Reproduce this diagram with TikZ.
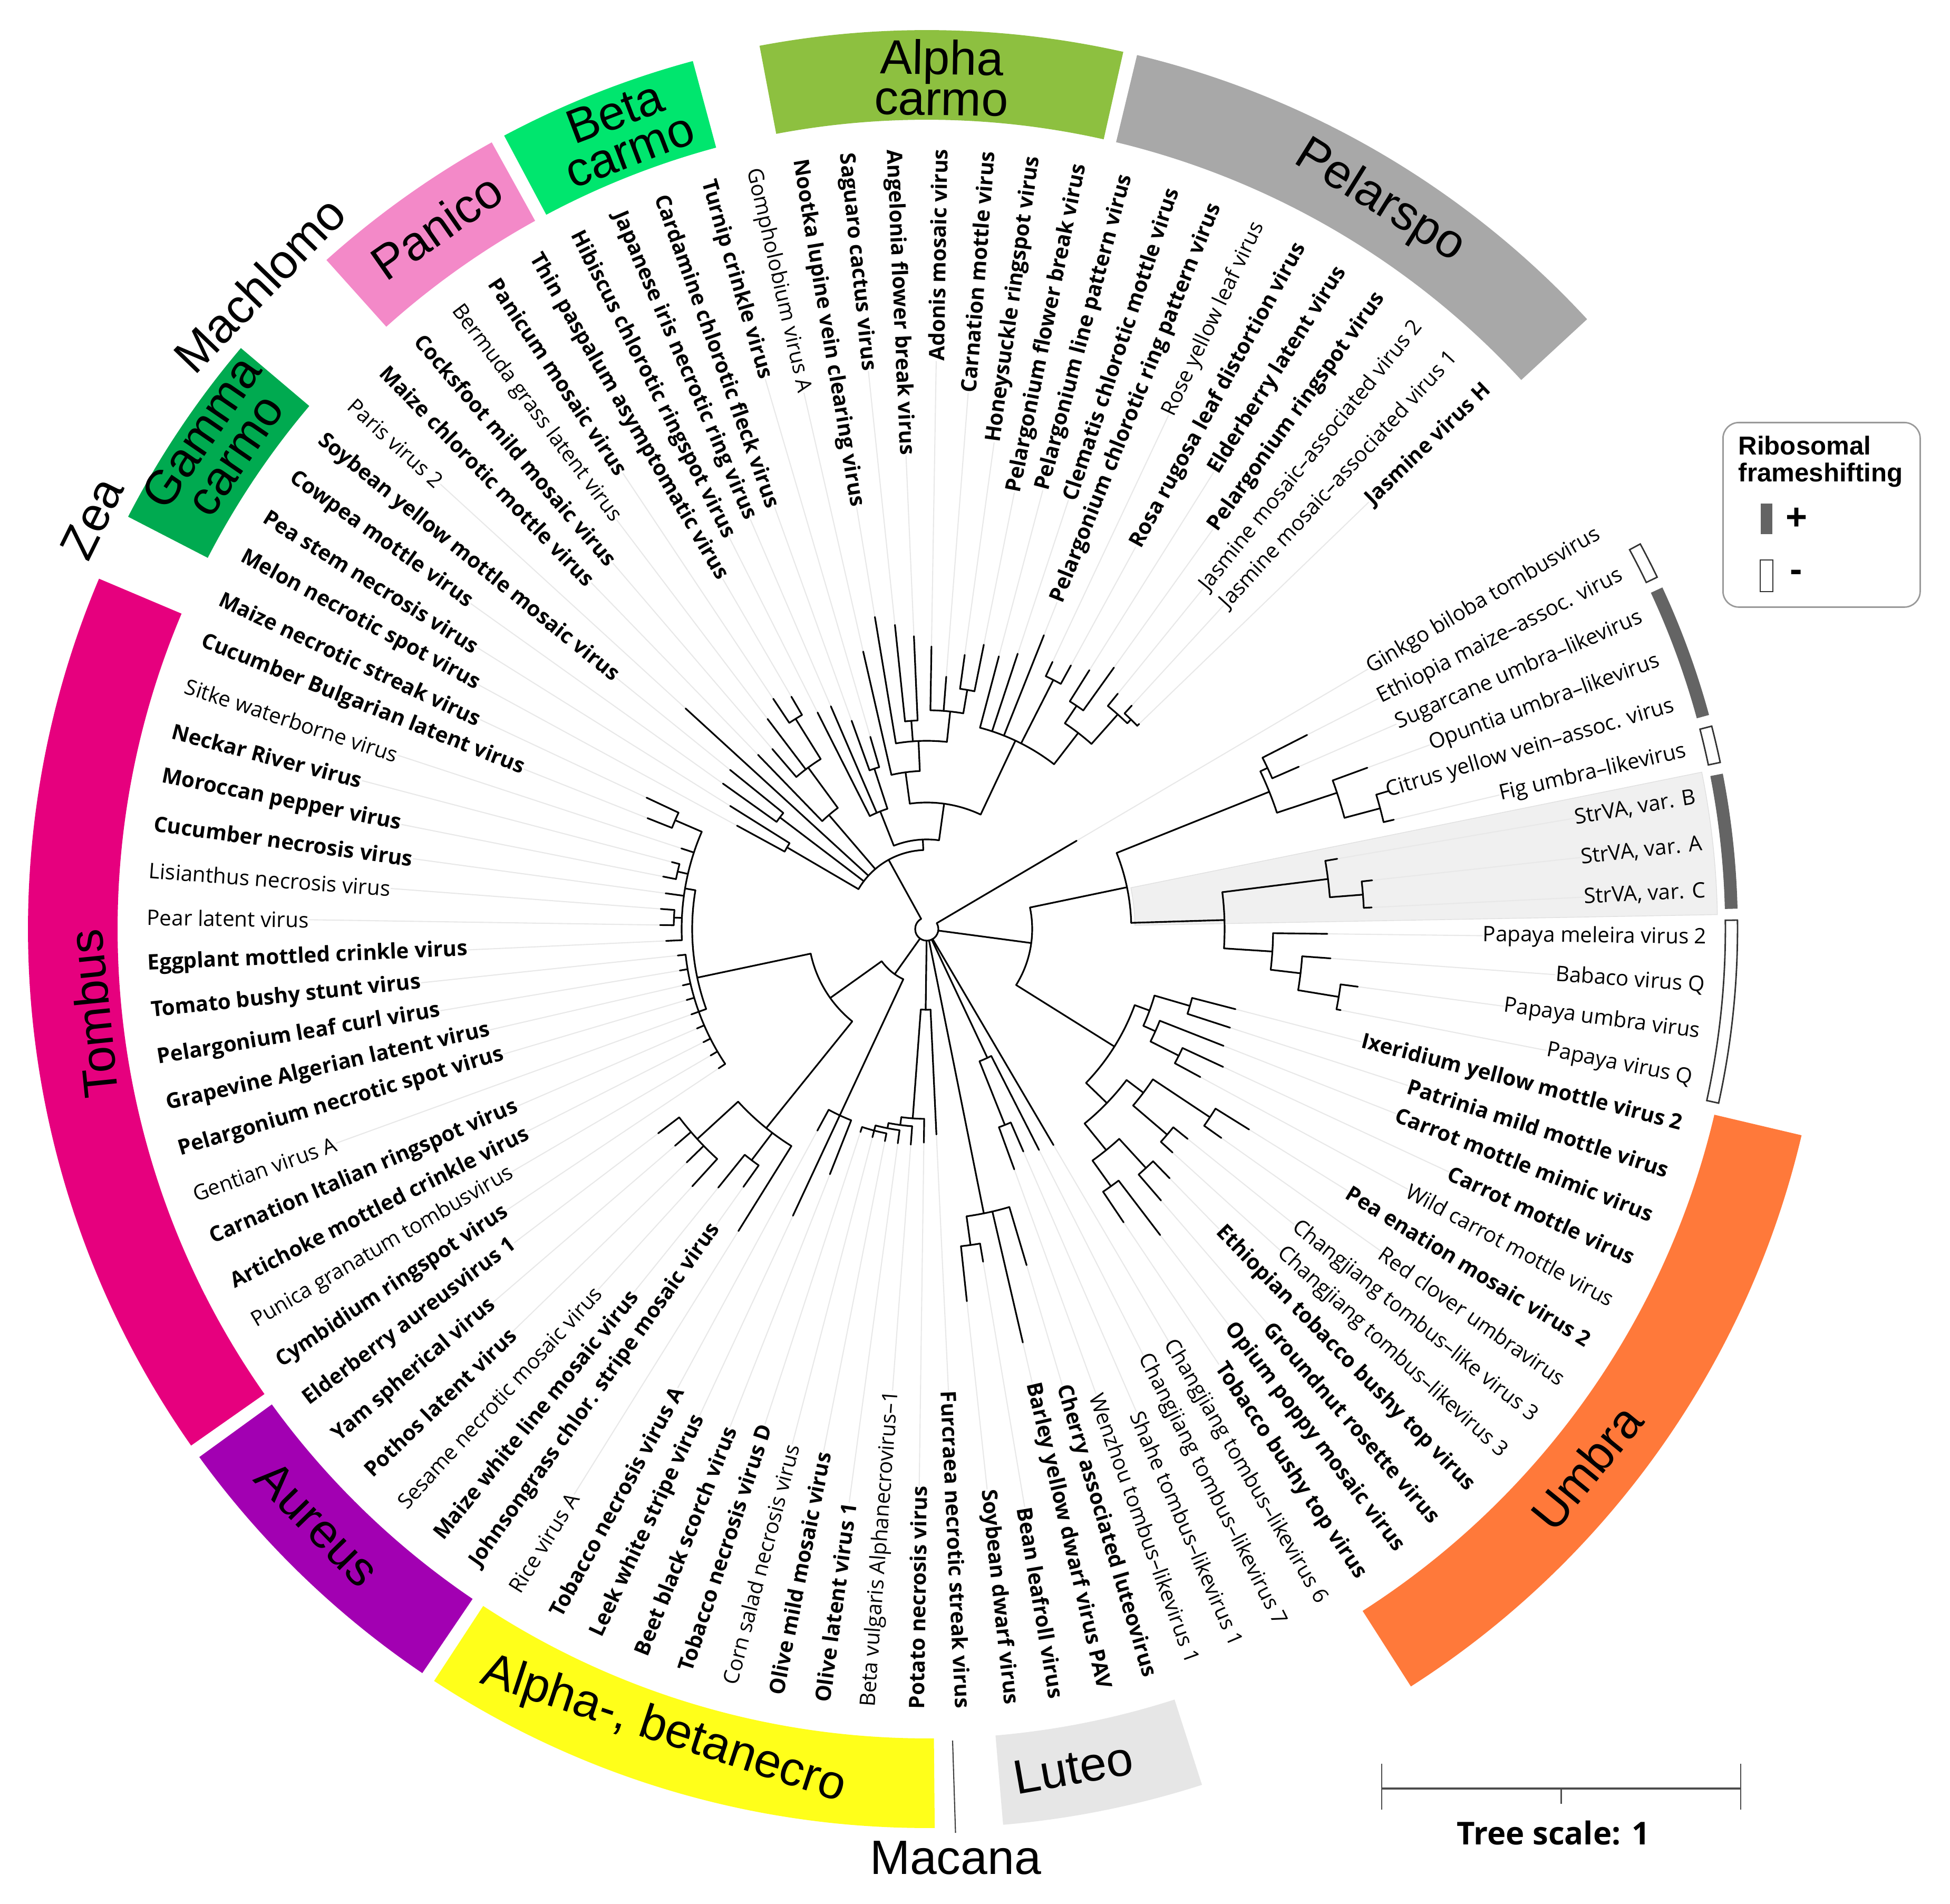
\documentclass[tikz,border=0pt]{standalone}
\usepackage{fontspec}
\setmainfont{Open Sans}
\newfontfamily\cladefont{Liberation Sans}
\usetikzlibrary{positioning,calc}

\definecolor{tombus}{RGB}{230,0,126}
\definecolor{aureus}{RGB}{162,0,178}
\definecolor{necro}{RGB}{255,255,26}
\definecolor{luteo}{RGB}{230,230,230}
\definecolor{umbra}{RGB}{255,121,58}
\definecolor{pelarspo}{RGB}{168,168,168}
\definecolor{alphac}{RGB}{141,192,64}
\definecolor{betac}{RGB}{0,230,110}
\definecolor{panico}{RGB}{243,137,200}
\definecolor{gammac}{RGB}{0,170,80}
\definecolor{fsgray}{RGB}{100,100,100}

% angle of leaf p on the circle
\tikzset{declare function={la(\p)=30.5-(\p-1)*3.465;}}

\begin{document}
\begin{tikzpicture}[
  br/.style={line width=0.9pt, line cap=round},
  lead/.style={black!9, line width=0.6pt},
  lab/.style={font=\fontsize{11.5}{13}\selectfont, inner sep=0pt},
  cl/.style={font=\cladefont\fontsize{26}{22}\selectfont, align=center, inner sep=0pt},
  fsplus/.style={fill=fsgray, draw=fsgray, line width=0.3pt},
  fsminus/.style={fill=white, draw=black!80, line width=0.8pt},
  legbox/.style={draw=black!40, line width=0.8pt, rounded corners=0.3cm},
  sbar/.style={draw=black!70, line width=1.2pt},
  sbtick/.style={draw=black!70, line width=0.6pt}
]
\useasboundingbox (-17.58,-18.49) rectangle (19.41,17.62);

% StrVA highlight
\filldraw[fill=black!6, draw=black!12, line width=0.4pt] ({la(6.5)}:3.95) arc[start angle={la(6.5)}, end angle={la(9.5)}, radius=3.95]
  -- ({la(9.5)}:15.0) arc[start angle={la(9.5)}, end angle={la(6.5)}, radius=15.0] -- cycle;

% genus ring
\foreach \c/\pa/\pb in {umbra/13.5/26.5, luteo/30.5/34.5, necro/35.5/45.5, aureus/45.5/51.5,
  tombus/51.5/68.5, gammac/69.5/73.5, panico/75.5/79.5, betac/79.5/83.5,
  alphac/84.5/91.5, pelarspo/91.5/101.5}{
  \pgfmathsetmacro\a{la(\pa+0.13)}
  \pgfmathsetmacro\b{la(\pb-0.13)}
  \fill[\c] (\a:15.35) arc[start angle=\a, end angle=\b, radius=15.35]
    -- (\b:17.05) arc[start angle=\b, end angle=\a, radius=17.05] -- cycle;
}

% frameshifting strip
\foreach \pa/\pb/\s in {2/2/fsminus, 3/5/fsplus, 6/6/fsminus, 7/9/fsplus, 10/13/fsminus}{
  \pgfmathsetmacro\a{la(\pa-0.38)}
  \pgfmathsetmacro\b{la(\pb+0.38)}
  \draw[\s] (\a:15.15) arc[start angle=\a, end angle=\b, radius=15.15]
    -- (\b:15.38) arc[start angle=\b, end angle=\a, radius=15.38] -- cycle;
}

% leaves: index / parent radius / tip radius / bold / name
\foreach \i/\rp/\r/\w/\t in {
 1/0.22/3.3/0/Ginkgo biloba tombusvirus,
 2/7.15/8.1/0/Ethiopia maize–assoc. virus,
 3/7.15/7.7/0/Sugarcane umbra–likevirus,
 4/8.2/8.9/0/Opuntia umbra–likevirus,
 5/8.9/9.15/0/Citrus yellow vein–assoc. virus,
 6/8.9/9.1/0/Fig umbra–likevirus,
 7/7.67/7.9/0/{StrVA, var. B},
 8/8.3/8.5/0/{StrVA, var. A},
 9/8.3/8.45/0/{StrVA, var. C},
 10/6.57/7.6/0/Papaya meleira virus 2,
 11/7.14/7.68/0/Babaco virus Q,
 12/7.92/8.25/0/Papaya umbra virus,
 13/7.92/8.0/0/Papaya virus Q,
 14/5.2/6.05/1/Ixeridium yellow mottle virus 2,
 15/5.2/6.05/1/Patrinia mild mottle virus,
 16/4.75/6.05/1/Carrot mottle mimic virus,
 17/5.35/6.2/1/Carrot mottle virus,
 18/5.35/5.9/0/Wild carrot mottle virus,
 19/6.45/7.2/1/Pea enation mosaic virus 2,
 20/6.45/6.85/0/Red clover umbravirus,
 21/6.0/6.35/0/Changjiang tombus–like virus 3,
 22/6.0/6.3/0/Changjiang tombus–likevirus 3,
 23/6.15/6.6/1/Ethiopian tobacco bushy top virus,
 24/6.15/6.8/1/Groundnut rosette virus,
 25/6.0/7.3/1/Opium poppy mosaic virus,
 26/6.0/6.7/1/Tobacco bushy top virus,
 27/0.22/4.75/0/Changjiang tombus–likevirus 6,
 28/2.7/4.7/0/Changjiang tombus–likevirus 7,
 29/4.0/4.6/0/Shahe tombus–likevirus 1,
 30/4.0/4.85/0/Wenzhou tombus–likevirus 1,
 31/5.5/6.65/1/Cherry associated luteovirus,
 32/5.5/8.05/1/Barley yellow dwarf virus PAV,
 33/6.05/6.4/1/Bean leafroll virus,
 34/6.05/7.1/1/Soybean dwarf virus,
 35/1.53/3.9/1/Furcraea necrotic streak virus,
 36/3.6/4.05/1/Potato necrosis virus,
 37/3.75/4.1/0/Beta vulgaris Alphanecrovirus–1,
 38/3.85/4.1/1/Olive latent virus 1,
 39/3.95/4.1/1/Olive mild mosaic virus,
 40/3.95/4.08/0/Corn salad necrosis virus,
 41/3.95/4.05/1/Tobacco necrosis virus D,
 42/3.9/5.0/1/Beet black scorch virus,
 43/3.9/6.0/1/Leek white stripe virus,
 44/3.9/4.35/1/Tobacco necrosis virus A,
 45/4.85/6.75/0/Rice virus A,
 46/5.5/6.0/1/Johnsongrass chlor. stripe mosaic virus,
 47/5.5/6.3/1/Maize white line mosaic virus,
 48/5.9/6.6/0/Sesame necrotic mosaic virus,
 49/5.9/6.35/1/Pothos latent virus,
 50/5.9/6.3/1/Yam spherical virus,
 51/5.9/6.4/1/Elderberry aureusvirus 1,
 52/4.6/4.75/1/Cymbidium ringspot virus,
 53/4.6/4.75/0/Punica granatum tombusvirus,
 54/4.6/4.75/1/Artichoke mottled crinkle virus,
 55/4.6/4.75/1/Carnation Italian ringspot virus,
 56/4.6/4.75/0/Gentian virus A,
 57/4.6/4.75/1/Pelargonium necrotic spot virus,
 58/4.6/4.75/1/Grapevine Algerian latent virus,
 59/4.6/4.75/1/Pelargonium leaf curl virus,
 60/4.6/4.75/1/Tomato bushy stunt virus,
 61/4.65/4.95/1/Eggplant mottled crinkle virus,
 62/4.8/5.06/0/Pear latent virus,
 63/4.8/5.06/0/Lisianthus necrosis virus,
 64/4.65/5.0/1/Cucumber necrosis virus,
 65/4.85/5.1/1/Moroccan pepper virus,
 66/4.85/5.0/1/Neckar River virus,
 67/4.65/4.9/0/Sitke waterborne virus,
 68/5.2/5.7/1/Cucumber Bulgarian latent virus,
 69/5.2/5.87/1/Maize necrotic streak virus,
 70/3.07/4.1/1/Melon necrotic spot virus,
 71/3.07/4.4/1/Pea stem necrosis virus,
 72/3.5/4.75/1/Cowpea mottle virus,
 73/3.5/4.8/1/Soybean yellow mottle mosaic virus,
 74/1.5/6.2/0/Paris virus 2,
 75/2.85/4.6/1/Maize chlorotic mottle virus,
 76/3.8/4.5/1/Cocksfoot mild mosaic virus,
 77/3.8/5.0/0/Bermuda grass latent virus,
 78/4.7/5.25/1/Panicum mosaic virus,
 79/4.7/5.1/1/Thin paspalum asymptomatic virus,
 80/2.4/4.6/1/Hibiscus chlorotic ringspot virus,
 81/2.4/4.6/1/Japanese iris necrotic ring virus,
 82/3.2/4.2/1/Cardamine chlorotic fleck virus,
 83/3.2/3.8/1/Turnip crinkle virus,
 84/3.0/5.4/0/Gompholobium virus A,
 85/3.57/6.0/1/Nootka lupine vein clearing virus,
 86/3.96/5.8/1/Saguaro cactus virus,
 87/3.96/5.56/1/Angelonia flower break virus,
 88/4.15/5.36/1/Adonis mosaic virus,
 89/4.15/4.8/1/Carnation mottle virus,
 90/4.6/5.25/1/Honeysuckle ringspot virus,
 91/4.6/5.5/1/Pelargonium flower break virus,
 92/3.95/5.35/1/Pelargonium line pattern virus,
 93/3.95/5.5/1/Clematis chlorotic mottle virus,
 94/3.95/6.0/1/Pelargonium chlorotic ring pattern virus,
 95/5.3/5.6/0/Rose yellow leaf virus,
 96/5.3/5.7/1/Rosa rugosa leaf distortion virus,
 97/5.1/5.8/1/Elderberry latent virus,
 98/5.1/6.1/1/Pelargonium ringspot virus,
 99/5.45/5.75/0/Jasmine mosaic–associated virus 2,
 100/5.55/5.75/0/Jasmine mosaic–associated virus 1,
 101/5.55/5.6/1/Jasmine virus H}{
  \pgfmathsetmacro\ang{la(\i)}
  \pgfmathtruncatemacro\rside{cos(\ang)>=0}
  \coordinate (tip\i) at (\ang:\r);
  \ifnum\rside=1
    \node[lab, anchor=east, rotate=\ang] (lab\i) at (\ang:14.8) {\ifnum\w=1 \bfseries\fi\t};
    \draw[lead] (tip\i) -- (lab\i.west);
  \else
    \node[lab, anchor=west, rotate=\ang+180] (lab\i) at (\ang:14.8) {\ifnum\w=1 \bfseries\fi\t};
    \draw[lead] (tip\i) -- (lab\i.east);
  \fi
  \draw[br] (\ang:\rp) -- (tip\i);
}

% inner branches: position / from / to
\foreach \p/\ra/\rb in {12/0.22/2.0, 28.5/0.22/2.7, 32.5/0.22/5.5, 36/0.22/1.53, 46/0.22/1.05,
  79.4/0.22/1.5, 6.4/2.0/3.88, 19.05/2.0/4.2, 3.5/3.88/7.0, 9.3/3.88/5.65, 2.5/7.0/7.15,
  4.5/7.0/8.2, 5.5/8.2/8.9, 7.75/5.65/7.67, 10.875/5.65/6.57, 8.5/7.67/8.3, 11.75/6.57/7.14,
  12.5/7.14/7.92, 15.6/4.2/4.5, 22.5/4.2/4.75, 14.5/4.5/5.2, 16.75/4.5/4.75, 17.5/4.75/5.35,
  20.5/4.75/5.15, 24.5/4.75/5.4, 19.5/5.15/6.45, 21.5/5.15/6.0, 23.5/5.4/6.15, 25.5/5.4/6.0,
  29.5/2.7/4.0, 33.5/5.5/6.05, 37/1.53/3.6, 38/3.6/3.75, 39/3.75/3.85, 40/3.85/3.95,
  43/1.05/3.9, 51.5/1.05/2.25, 47/2.25/4.85, 58.3/2.25/4.45, 46.5/4.85/5.5, 49.5/4.85/5.9,
  56/4.45/4.6, 64.5/4.45/4.65, 62.5/4.65/4.8, 65.5/4.65/4.85, 68.5/4.65/5.2,
  70.5/1.5/3.07, 72.5/1.5/3.5, 76/1.5/2.85, 87/1.5/1.7, 77.25/2.85/3.8, 78.5/3.8/4.7,
  81.5/1.7/2.4, 90/1.7/2.4, 82.5/2.4/3.2, 85.5/2.4/3.0, 95/2.4/3.95, 87/3.0/3.57,
  86.5/3.57/3.96, 89.5/3.57/4.15, 90.5/4.15/4.6, 95.5/3.95/5.3, 98.6/3.95/4.7,
  97.5/4.7/5.1, 99.75/4.7/5.45, 100.5/5.45/5.55}
  \draw[br] ({la(\p)}:\ra) -- ({la(\p)}:\rb);

% node arcs: from / to / radius
\foreach \pa/\pb/\r in {1/79.4/0.22, 6.4/19.05/2.0, 3.5/9.3/3.88, 2.5/4.5/7.0, 2/3/7.15,
  4/5.5/8.2, 5/6/8.9, 7.75/10.875/5.65, 7/8.5/7.67, 8/9/8.3, 10/11.75/6.57, 11/12.5/7.14,
  12/13/7.92, 15.6/22.5/4.2, 14.5/16.75/4.5, 14/15/5.2, 16/17.5/4.75, 17/18/5.35,
  20.5/24.5/4.75, 19.5/21.5/5.15, 19/20/6.45, 21/22/6.0, 23.5/25.5/5.4, 23/24/6.15,
  25/26/6.0, 28/29.5/2.7, 29/30/4.0, 31/33.5/5.5, 33/34/6.05, 35/37/1.53, 36/38/3.6,
  37/39/3.75, 38/40/3.85, 39/41/3.95, 43/51.5/1.05, 42/44/3.9, 47/58.3/2.25, 45/49.5/4.85,
  46/47/5.5, 48/51/5.9, 56/64.5/4.45, 52/60/4.6, 61/68.5/4.65, 62/63/4.8, 65/66/4.85,
  68/69/5.2, 70.5/87/1.5, 70/71/3.07, 72/73/3.5, 75/77.25/2.85, 76/78.5/3.8, 78/79/4.7,
  81.5/90/1.7, 80/82.5/2.4, 82/83/3.2, 85.5/95/2.4, 84/87/3.0, 85/89.5/3.57, 86/87/3.96,
  88/90.5/4.15, 90/91/4.6, 92/98.6/3.95, 95/96/5.3, 97.5/99.75/4.7, 97/98/5.1,
  99/100.5/5.45, 100/101/5.55}
  \draw[br] ({la(\pa)}:\r) arc[start angle={la(\pa)}, end angle={la(\pb)}, radius=\r];

% genus names
\node[cl, rotate=95.8] (cl-tombus) at (185.8:15.9) {Tombus};
\node[cl, rotate=314.3] (cl-aureus) at (224.3:16.15) {Aureus};
\node[cl, rotate=341.8] (cl-necro) at (251.8:16.0) {Alpha-, betanecro};
\node[cl, rotate=9.9] (cl-luteo) at (-80.1:16.15) {Luteo};
\node[cl, rotate=50.8] (cl-umbra) at (-39.2:16.15) {Umbra};
\node[cl, rotate=-31.9] (cl-pelarspo) at (58.1:16.25) {Pelarspo};
\node[cl, rotate=-1] (cl-alphac) at (89:16.15) {Alpha\\carmo};
\node[cl, rotate=20.9] (cl-betac) at (110.9:16.2) {Beta\\carmo};
\node[cl, rotate=34.9] (cl-panico) at (124.9:16.25) {Panico};
\node[cl, rotate=55.6] (cl-gammac) at (145.6:16.3) {Gamma\\carmo};
\node[cl, rotate=46] (cl-machlomo) at (136:17.6) {Machlomo};
\node[cl, rotate=63.8] (cl-zea) at (153.8:17.65) {Zea};
\draw[black!75, line width=0.6pt] ({la(35.25)}:15.4) -- ({la(35.25)}:17.15) coordinate (mac-out);
\node[cl, below=0.15cm of mac-out] (cl-macana) {Macana};

% legend
\node[legbox, minimum width=3.74cm, minimum height=3.5cm, anchor=north west] (legend) at (15.09,9.62) {};
\node[anchor=north west, align=left, inner sep=0pt,
  font=\cladefont\bfseries\fontsize{14}{14.5}\selectfont] (legtitle)
  at ($(legend.north west)+(0.3,-0.26)$) {Ribosomal\\frameshifting};
\node[fsplus, minimum width=0.21cm, minimum height=0.57cm, inner sep=0pt] (legplus) at (15.93,7.78) {};
\node[right=0.25cm of legplus, inner sep=0pt, font=\cladefont\bfseries\fontsize{20}{20}\selectfont] (legplustxt) {+};
\node[fsminus, minimum width=0.24cm, minimum height=0.6cm, inner sep=0pt] (legminus) at (15.93,6.70) {};
\node[right=0.3cm of legminus, inner sep=0pt, font=\cladefont\bfseries\fontsize{20}{20}\selectfont] (legminustxt) {-};

% tree scale
\coordinate (sbl) at (8.63,-16.30);
\coordinate (sbr) at (15.44,-16.30);
\coordinate (sbm) at ($(sbl)!0.5!(sbr)$);
\draw[sbar] (sbl) -- (sbr);
\draw[sbtick] ($(sbl)+(0,0.47)$) -- ($(sbl)+(0,-0.40)$);
\draw[sbtick] ($(sbr)+(0,0.47)$) -- ($(sbr)+(0,-0.40)$);
\draw[sbtick] (sbm) -- ++(0,-0.29);
\node[below=0.6cm of sbm, xshift=-0.15cm, inner sep=0pt, font=\bfseries\fontsize{17}{17}\selectfont] (sbtext) {Tree scale: 1};
\end{tikzpicture}
\end{document}
